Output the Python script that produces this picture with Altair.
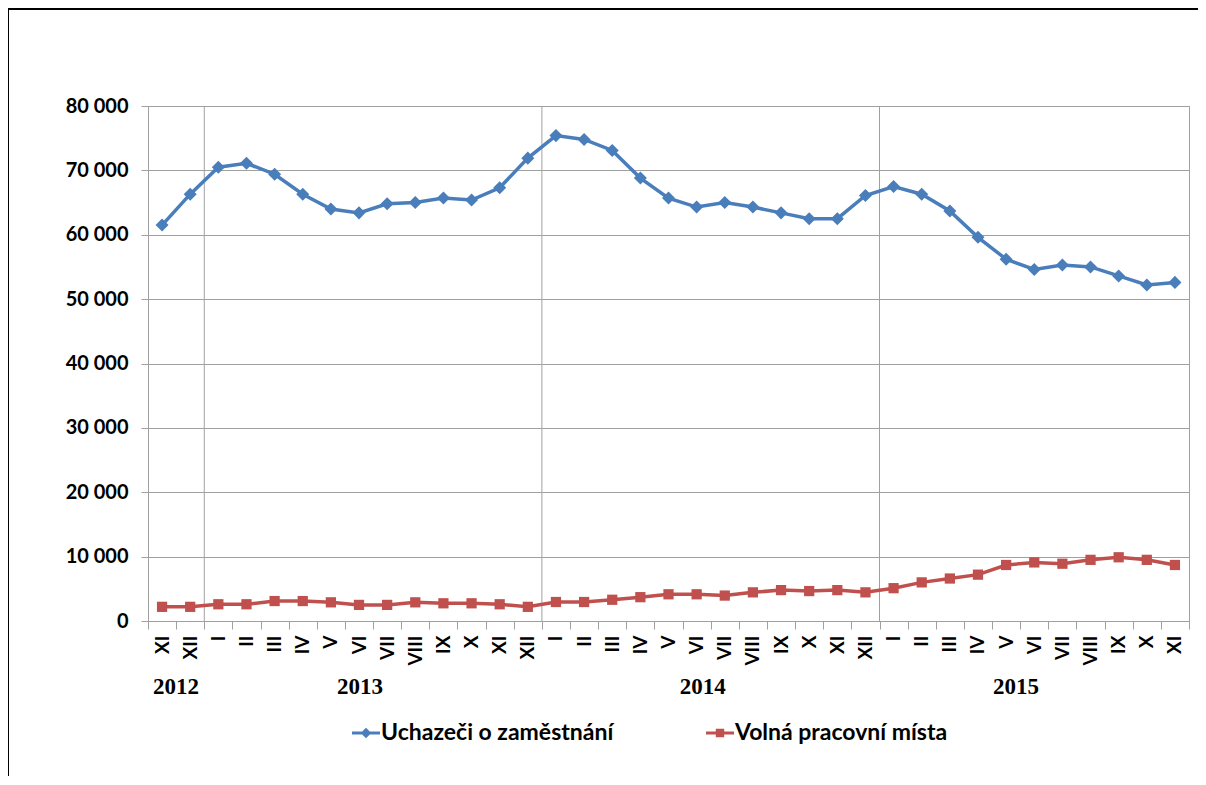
import altair as alt
import pandas as pd

# ---------------- data ----------------
YEARS = ["2012"] * 2 + ["2013"] * 12 + ["2014"] * 12 + ["2015"] * 11
MONTHS = (["XI", "XII"]
          + ["I", "II", "III", "IV", "V", "VI", "VII", "VIII", "IX", "X", "XI", "XII"]
          + ["I", "II", "III", "IV", "V", "VI", "VII", "VIII", "IX", "X", "XI", "XII"]
          + ["I", "II", "III", "IV", "V", "VI", "VII", "VIII", "IX", "X", "XI"])

UCHAZECI = [61500, 66300,
            70500, 71100, 69400, 66300, 64000, 63400, 64800, 65000, 65700, 65400, 67300, 71900,
            75400, 74800, 73100, 68800, 65700, 64300, 65000, 64300, 63400, 62500, 62500, 66100,
            67500, 66300, 63700, 59600, 56200, 54600, 55300, 55000, 53600, 52200, 52600]

VOLNA = [2200, 2200,
         2600, 2600, 3100, 3100, 2900, 2500, 2500, 2900, 2750, 2750, 2600, 2200,
         2950, 2950, 3300, 3700, 4150, 4150, 3950, 4450, 4800, 4650, 4800, 4450,
         5100, 6000, 6600, 7200, 8700, 9100, 8900, 9500, 9900, 9500, 8700]

SERIES = ["Uchazeči o zaměstnání", "Volná pracovní místa"]
COLORS = ["#4A7EBB", "#C0504D"]

Y_TICKS = [0, 10000, 20000, 30000, 40000, 50000, 60000, 70000, 80000]

YEAR_SEPARATORS = ["2013-I", "2014-I", "2015-I"]
YEAR_LABELS = ["2012", "2013", "2014", "2015"]
YEAR_ANCHORS = ["2012-XI", "2013-VI", "2014-VI", "2015-V"]

# ---------------- styling ----------------
YEAR_DX = [14, 1, 6, 10]
GRID = "#A0A0A0"
W, H = 1041, 515

KEYS = [f"{y}-{m}" for y, m in zip(YEARS, MONTHS)]
df = pd.DataFrame({"key": KEYS, "uch": UCHAZECI, "vol": VOLNA})

xscale = alt.Scale(domain=KEYS, paddingInner=0, paddingOuter=0)
yscale = alt.Scale(domain=[0, 80000], nice=False)

x_axis = alt.Axis(
    title=None,
    labelExpr="split(datum.label, '-')[1]",
    labelAngle=270,
    labelAlign="right",
    labelBaseline="middle",
    labelFont="Lato",
    labelFontWeight="bold",
    labelFontSize=19,
    labelColor="black",
    labelPadding=6,
    tickBand="extent",
    tickColor=GRID,
    tickSize=8,
    domainColor=GRID,
    grid=False,
    labelOverlap=False,
)
y_axis = alt.Axis(
    title=None,
    values=Y_TICKS,
    labelExpr="replace(format(datum.value, ','), ',', ' ')",
    labelFont="Lato",
    labelFontWeight="bold",
    labelFontSize=20,
    labelColor="black",
    labelPadding=13,
    tickColor=GRID,
    tickSize=7,
    domainColor=GRID,
    gridColor=GRID,
    gridOpacity=1,
)

X = alt.X("key:N", scale=xscale, axis=x_axis, sort=None)
Xn = alt.X("key:N", scale=xscale, sort=None)

base = alt.Chart(df)

sep = alt.Chart(pd.DataFrame({"key": YEAR_SEPARATORS})).mark_rule(
    color=GRID, strokeWidth=1
).encode(x=alt.X("key:N", scale=xscale, sort=None, bandPosition=0))

line_u = base.mark_line(color=COLORS[0], strokeWidth=3.5).encode(
    x=X, y=alt.Y("uch:Q", scale=yscale, axis=y_axis))
pts_u = base.mark_point(shape="diamond", filled=True, opacity=1, size=170,
                        color=COLORS[0]).encode(x=Xn, y=alt.Y("uch:Q", scale=yscale))
line_v = base.mark_line(color=COLORS[1], strokeWidth=3.5).encode(
    x=Xn, y=alt.Y("vol:Q", scale=yscale))
pts_v = base.mark_point(shape="square", filled=True, opacity=1, size=105,
                        color=COLORS[1]).encode(x=Xn, y=alt.Y("vol:Q", scale=yscale))

LEGEND_SHAPES = [
    "M-1,-0.11H1V0.11H-1Z M0,-0.38L0.38,0L0,0.38L-0.38,0Z",
    "M-1,-0.11H1V0.11H-1Z M-0.3,-0.3H0.3V0.3H-0.3Z",
]
leg = alt.Legend(
    title=None,
    orient="none",
    legendX=204,
    legendY=613,
    direction="horizontal",
    labelFont="Lato",
    labelFontWeight="bold",
    labelFontSize=23,
    labelColor="black",
    labelLimit=500,
    symbolSize=784,
    symbolStrokeWidth=0,
    labelOffset=1,
    columnPadding=92,
    padding=0,
)
legend_layer = alt.Chart(pd.DataFrame({"series": SERIES})).transform_filter(
    "false"
).mark_point(filled=True, opacity=1).encode(
    color=alt.Color("series:N", scale=alt.Scale(domain=SERIES, range=COLORS), legend=leg),
    shape=alt.Shape("series:N", scale=alt.Scale(domain=SERIES, range=LEGEND_SHAPES), legend=leg),
)

year_layers = []
for lab, anc, dx in zip(YEAR_LABELS, YEAR_ANCHORS, YEAR_DX):
    year_layers.append(
        alt.Chart(pd.DataFrame({"key": [anc], "label": [lab]})).mark_text(
            font="Liberation Serif", fontWeight="bold", fontSize=23, color="black",
            dx=dx, baseline="middle", align="center"
        ).encode(x=Xn, y=alt.value(H + 66), text="label:N")
    )

one = pd.DataFrame({"a": [0]})
border_left = alt.Chart(one).mark_rule(color="black", strokeWidth=2).encode(
    x=alt.value(-140), y=alt.value(-98), y2=alt.value(H + 160))
border_top = alt.Chart(one).mark_rule(color="black", strokeWidth=2).encode(
    x=alt.value(-140), x2=alt.value(W + 20), y=alt.value(-97))

chart = alt.layer(
    sep, line_u, pts_u, line_v, pts_v, legend_layer, *year_layers, border_left, border_top
).properties(
    width=W,
    height=H,
    padding={"left": 140, "top": 98, "right": 9, "bottom": 155},
    autosize=alt.AutoSizeParams(type="none"),
    background="white",
).configure_view(stroke=GRID, strokeWidth=1)

chart.save("out.html", embed_options={"renderer": "svg", "actions": False})
